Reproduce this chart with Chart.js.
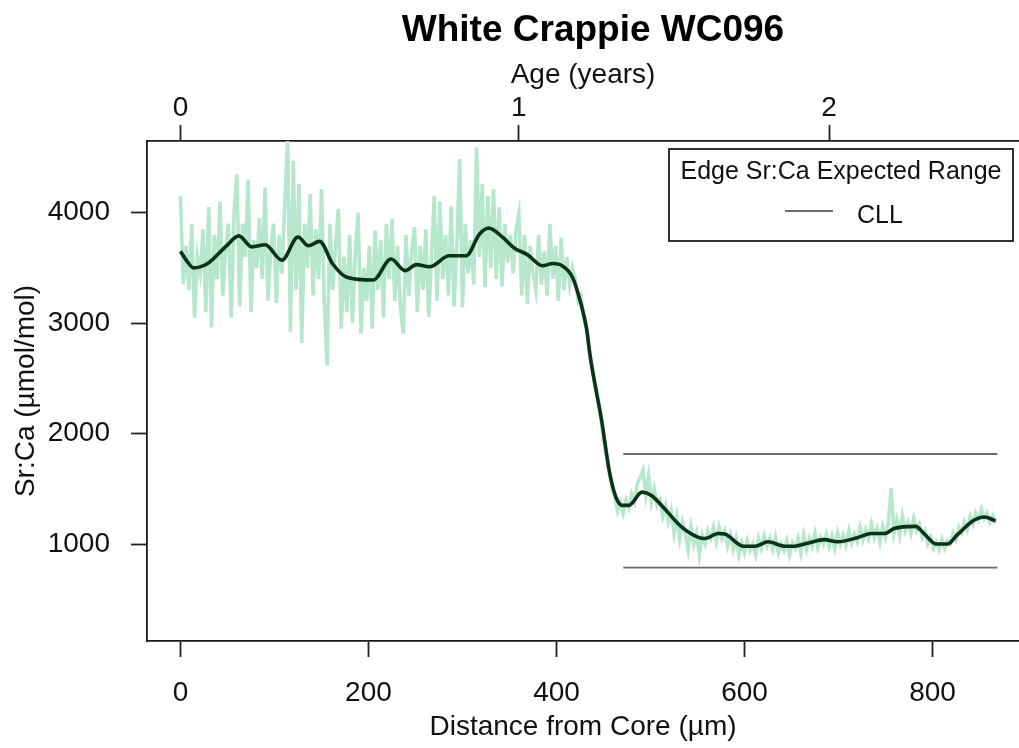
<!DOCTYPE html>
<html>
<head>
<meta charset="utf-8">
<script src="https://cdn.jsdelivr.net/npm/chart.js@4.4.1/dist/chart.umd.min.js"></script>
<style>
  html, body { margin: 0; padding: 0; background: #fff; overflow: hidden; }
  #wrap { width: 1019px; height: 748px; }
</style>
</head>
<body>
<div id="wrap"><canvas id="srca" width="1019" height="748"></canvas></div>
<script>
// Sr:Ca transect, one laser reading every 3 µm out from the core
const rawStep = 3;
const rawSrCa = [
  4150, 3350, 3700, 3300, 3900, 3050, 3600, 3450, 3850, 3100,
  4050, 2960, 3800, 3400, 4100, 3250, 3650, 3900, 3050, 4000,
  4350, 3150, 3900, 3600, 4300, 3100, 3750, 3500, 3950, 3400,
  4230, 3200, 3650, 3900, 3180, 3800, 3450, 4100, 4650, 2920,
  4470, 3300, 4260, 2820, 3900, 3500, 4170, 3250, 3850, 3400,
  4215, 3200, 2615, 3900, 3300, 3700, 4035, 2950, 3600, 3100,
  3800, 3000, 3650, 4000, 2905, 3500, 3200, 3700, 2950, 3840,
  3300, 3750, 3050, 3900, 3400, 3945, 3200, 3700, 3150, 2905,
  3800, 3250, 3650, 3870, 3100, 3700, 3300, 3850, 3055, 3600,
  4150, 3200, 4100, 3400, 3800, 3250, 4060, 3150, 3700, 4485,
  3145, 3900, 3450, 3750, 3350, 4590, 3600, 4260, 3325, 4150,
  3500, 4215, 3400, 4050, 3330, 3900, 3550, 3800, 3450, 3850,
  3990, 3250, 3800, 3175, 3700, 3450, 3300, 3800, 3350, 3650,
  3250, 3900, 3400, 3700, 3200, 3775, 3300, 3600, 3350, 3500,
  3400, 3200, 3250, 3050, 2950, 2750, 2600, 2420, 2300, 2150,
  1950, 1800, 1650, 1500, 1420, 1300, 1380, 1280, 1400, 1330,
  1450, 1380, 1550, 1600, 1670, 1450, 1620, 1380, 1500, 1350,
  1400, 1250, 1350, 1200, 1300, 1100, 1250, 1050, 1200, 1100,
  950, 1150, 1000, 1100, 900, 1080, 1000, 1120, 1050, 1150,
  1020, 1150, 1050, 1120, 980, 1080, 950, 1050, 900, 1010,
  920, 1030, 940, 1000, 900, 1050, 960, 1070, 980, 1050,
  950, 1060, 920, 1000, 940, 1030, 900, 1010, 960, 1050,
  920, 1080, 950, 1050, 980, 1100, 970, 1060, 1000, 1090,
  980, 1070, 960, 1100, 1000, 1080, 990, 1120, 1010, 1090,
  1020, 1150, 1040, 1130, 1050, 1180, 1060, 1140, 1020, 1160,
  1060, 1200, 1505, 1100, 1220, 1080, 1250, 1120, 1200, 1100,
  1230, 1120, 1180, 1060, 1120, 1000, 1060, 960, 1020, 950,
  1040, 960, 1030, 1000, 1100, 1040, 1150, 1100, 1200, 1130,
  1250, 1180, 1280, 1220, 1310, 1230, 1280, 1200, 1260, 1190
];

// smoothed Sr:Ca profile
const smoothDist = [
  0, 7, 14, 28, 49, 62, 76, 90, 108, 125, 136, 148, 162, 177, 205,
  224, 239, 251, 265, 286, 304, 318, 328, 343, 355, 369, 385, 396, 406, 417,
  426, 432, 436, 442, 448, 456, 463, 470, 477, 491, 501, 516, 533, 551, 558,
  572, 579, 599, 611, 625, 643, 653, 668, 685, 699, 721, 735, 749, 759, 782,
  791, 804, 816, 826, 844, 855, 867
];
const smoothSrCa = [
  3650, 3560, 3500, 3535, 3700, 3790, 3690, 3710, 3570, 3780, 3700, 3740, 3535, 3415, 3390,
  3580, 3475, 3530, 3510, 3610, 3610, 3805, 3860, 3775, 3680, 3620, 3520, 3540, 3520, 3415,
  3175, 2950, 2690, 2400, 2120, 1670, 1430, 1350, 1350, 1470, 1440, 1310, 1155, 1060, 1050,
  1095, 1090, 980, 980, 1020, 980, 980, 1010, 1040, 1020, 1060, 1095, 1095, 1140, 1160,
  1095, 1000, 1000, 1080, 1215, 1245, 1210
];

// expected edge Sr:Ca range for CLL
const rangeDist = [471, 869];
const rangeUpper = 1815;
const rangeLower = 786;

const distTicks = [0, 200, 400, 600, 800];
const srcaTicks = [1000, 2000, 3000, 4000];
const ageTickDist = [0, 360, 690];
const ageTickLabels = ['0', '1', '2'];

const FONT = "'Liberation Sans', Arial, sans-serif";
const INK = '#111';
const X_MIN = -35.6, X_MAX = 892;

const rawPoints = rawSrCa.map((v, i) => ({ x: i * rawStep, y: v }));
const smoothPoints = smoothDist.map((d, i) => ({ x: d, y: smoothSrCa[i] }));
const upperPoints = rangeDist.map(d => ({ x: d, y: rangeUpper }));
const lowerPoints = rangeDist.map(d => ({ x: d, y: rangeLower }));

function axisStyle(extra) {
  return Object.assign({
    grid: { drawOnChartArea: false, tickLength: 16, tickColor: '#222', tickWidth: 1.8 },
    border: { display: true, color: '#1a1a1a', width: 1.8 },
  }, extra);
}

// title above the plot plus the boxed legend in the upper right
const annotate = {
  id: 'annotate',
  afterDraw(chart) {
    const ctx = chart.ctx;
    ctx.save();
    ctx.fillStyle = '#000';
    ctx.font = 'bold 37px ' + FONT;
    ctx.textAlign = 'center';
    ctx.textBaseline = 'alphabetic';
    ctx.fillText('White Crappie WC096', 593, 41);

    const bx = 669, by = 149, bw = 344, bh = 92;
    ctx.fillStyle = '#fff';
    ctx.fillRect(bx, by, bw, bh);
    ctx.strokeStyle = '#1a1a1a';
    ctx.lineWidth = 1.8;
    ctx.strokeRect(bx, by, bw, bh);

    ctx.fillStyle = INK;
    ctx.font = '25px ' + FONT;
    ctx.fillText('Edge Sr:Ca Expected Range', bx + bw / 2, 179);

    const ds = chart.data.datasets[2];
    ctx.strokeStyle = ds.borderColor;
    ctx.lineWidth = ds.borderWidth;
    ctx.beginPath();
    ctx.moveTo(785, 211);
    ctx.lineTo(833, 211);
    ctx.stroke();
    ctx.textAlign = 'left';
    ctx.fillText(ds.label, 857, 223);
    ctx.restore();
  }
};

new Chart(document.getElementById('srca'), {
  type: 'line',
  data: {
    datasets: [
      {
        label: 'Sr:Ca',
        data: rawPoints,
        borderColor: 'rgb(182, 231, 204)',
        borderWidth: 3.6,
        pointRadius: 0,
        tension: 0,
        order: 3
      },
      {
        label: 'Smoothed',
        data: smoothPoints,
        borderColor: '#0c3219',
        borderWidth: 3.6,
        pointRadius: 0,
        cubicInterpolationMode: 'monotone',
        order: 0
      },
      {
        label: 'CLL',
        data: upperPoints,
        borderColor: '#6a6a6a',
        borderWidth: 1.8,
        pointRadius: 0,
        order: 1
      },
      {
        label: 'CLL lower',
        data: lowerPoints,
        borderColor: '#6a6a6a',
        borderWidth: 1.8,
        pointRadius: 0,
        order: 1
      }
    ]
  },
  options: {
    responsive: false,
    animation: false,
    devicePixelRatio: 1,
    layout: { padding: { top: 50, left: 0, right: 0, bottom: 0 } },
    plugins: {
      legend: { display: false },
      tooltip: { enabled: false },
      title: { display: false }
    },
    scales: {
      x: axisStyle({
        type: 'linear',
        position: 'bottom',
        min: X_MIN,
        max: X_MAX,
        afterFit: s => { s.height = 107; },
        afterBuildTicks: s => { s.ticks = distTicks.map(v => ({ value: v })); },
        ticks: {
          color: INK, font: { family: FONT, size: 28 }, padding: 19,
          maxRotation: 0, autoSkip: false,
          callback: v => String(v)
        },
        title: {
          display: true, text: 'Distance from Core (µm)', color: INK,
          font: { family: FONT, size: 28 }, padding: { top: 0, bottom: 4 }
        }
      }),
      age: axisStyle({
        type: 'linear',
        position: 'top',
        min: X_MIN,
        max: X_MAX,
        afterFit: s => { s.height = 91; },
        afterBuildTicks: s => { s.ticks = ageTickDist.map(v => ({ value: v })); },
        ticks: {
          color: INK, font: { family: FONT, size: 28 }, padding: 0,
          maxRotation: 0, autoSkip: false,
          callback: (v, i) => ageTickLabels[i]
        },
        title: {
          display: true, text: 'Age (years)', color: INK,
          font: { family: FONT, size: 28 }, padding: { top: 8, bottom: 0 }
        }
      }),
      y: axisStyle({
        type: 'linear',
        position: 'left',
        min: 122,
        max: 4649,
        afterFit: s => { s.width = 147; },
        afterBuildTicks: s => { s.ticks = srcaTicks.map(v => ({ value: v })); },
        ticks: {
          color: INK, font: { family: FONT, size: 28 }, padding: 21,
          callback: v => String(v)
        },
        title: {
          display: true, text: 'Sr:Ca (µmol/mol)', color: INK,
          font: { family: FONT, size: 28 }, padding: { top: 9, bottom: 0 }
        }
      })
    }
  },
  plugins: [annotate]
});
</script>
</body>
</html>
